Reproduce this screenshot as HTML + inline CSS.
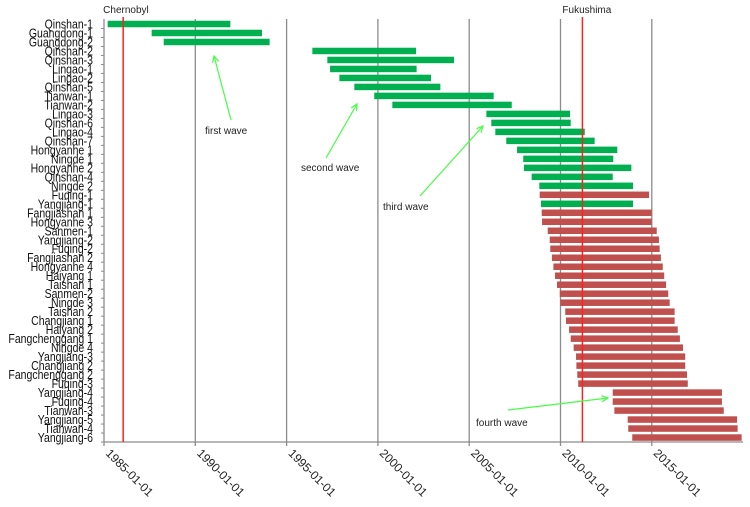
<!DOCTYPE html>
<html><head><meta charset="utf-8"><style>
html,body{margin:0;padding:0;background:#fff;}
svg{display:block;font-family:"Liberation Sans",sans-serif;}
</style></head><body>
<svg id="chart" width="750" height="507"></svg>
<script>
const units = ["Qinshan-1","Guangdong-1","Guangdong-2","Qinshan-2","Qinshan-3","Lingao-1","Lingao-2","Qinshan-5","Tianwan-1","Tianwan-2","Lingao-3","Qinshan-6","Lingao-4","Qinshan-7","Hongyanhe 1","Ningde 1","Hongyanhe 2","Qinshan-4","Ningde 2","Fuqing-1","Yangjiang-1","Fangjiashan 1","Hongyanhe 3","Sanmen-1","Yangjiang-2","Fuqing-2","Fangjiashan 2","Hongyanhe 4","Haiyang 1","Taishan 1","Sanmen-2","Ningde 3","Taishan 2","Changjiang 1","Haiyang 2","Fangchenggang 1","Ningde 4","Yangjiang-3","Changjiang 2","Fangchenggang 2","Fuqing-3","Yangjiang-4","Fuqing-4","Tianwan-3","Yangjiang-5","Tianwan-4","Yangjiang-6"];
const startYears = [1985.2,1987.61,1988.27,1996.41,1997.23,1997.38,1997.89,1998.71,1999.80,2000.79,2005.94,2006.21,2006.43,2007.03,2007.62,2007.96,2008.00,2008.42,2008.84,2008.86,2008.93,2008.97,2008.99,2009.30,2009.41,2009.44,2009.53,2009.61,2009.70,2009.81,2009.96,2009.99,2010.26,2010.30,2010.47,2010.56,2010.72,2010.85,2010.87,2010.92,2010.97,2012.86,2012.86,2012.95,2013.68,2013.71,2013.93];
const endYears = [1991.92,1993.65,1994.07,2002.09,2004.17,2002.12,2002.91,2003.42,2006.34,2007.33,2010.52,2010.56,2011.33,2011.87,2013.11,2012.89,2013.88,2012.86,2013.97,2014.85,2013.97,2014.99,2014.99,2015.27,2015.39,2015.43,2015.50,2015.60,2015.68,2015.78,2015.90,2015.98,2016.25,2016.25,2016.42,2016.54,2016.71,2016.83,2016.83,2016.93,2016.97,2018.84,2018.84,2018.94,2019.67,2019.70,2019.92];
const status = ["op","op","op","op","op","op","op","op","op","op","op","op","op","op","op","op","op","op","op","uc","op","uc","uc","uc","uc","uc","uc","uc","uc","uc","uc","uc","uc","uc","uc","uc","uc","uc","uc","uc","uc","uc","uc","uc","uc","uc","uc"];
const tickYears = [1985,1990,1995,2000,2005,2010,2015];
const tickLabels = ["1985-01-01","1990-01-01","1995-01-01","2000-01-01","2005-01-01","2010-01-01","2015-01-01"];
const events = ["Chernobyl","Fukushima"];
const eventYears = [1986.05,2011.2];

const NS="http://www.w3.org/2000/svg";
const svg=document.getElementById('chart');
const X0=104, K=18.26, Y0=24, RS=8.99, BH=6.5, AXY=442, TOP=19;
function x(y){return X0+(y-1985)*K;}
function yc(i){return Y0+i*RS;}
function mk(t,a,p){const e=document.createElementNS(NS,t);for(const k in a)e.setAttribute(k,a[k]);(p||svg).appendChild(e);return e;}

tickYears.forEach((t,i)=>{
  if(i===0)return;
  const g=mk('line',{x1:x(t),x2:x(t),y1:TOP,y2:AXY,stroke:'#8c8c8c','stroke-width':1.3});
  
  
});
const ya=mk('line',{x1:X0,x2:X0,y1:TOP,y2:AXY,stroke:'#8c8c8c','stroke-width':1.3});


const xa=mk('line',{x1:X0,x2:743,y1:AXY,y2:AXY,stroke:'#8c8c8c','stroke-width':1.3});



units.forEach((u,i)=>{
  const b=mk('rect',{x:x(startYears[i]),y:yc(i)-BH/2,width:x(endYears[i])-x(startYears[i]),height:BH,fill:status[i]==='op'?'#00b050':'#c0504d'});
  
  
  const tk=mk('line',{x1:X0-3,x2:X0,y1:yc(i)+RS/2,y2:yc(i)+RS/2,stroke:'#8c8c8c'});
  
  
  const t=mk('text',{x:93,y:yc(i)+4.5,'text-anchor':'end','font-size':'12.5',fill:'#111',transform:'translate(93 0) scale(0.84 1) translate(-93 0)'});
  t.textContent=u;
  
  
});

tickYears.forEach((t,i)=>{
  const tk=mk('line',{x1:x(t),x2:x(t),y1:AXY,y2:AXY+4,stroke:'#8c8c8c','stroke-width':1.3});
  
  
  const tx=x(t)+1, ty=AXY+12;
  const l=mk('text',{x:tx,y:ty,'font-size':'12',fill:'#222',transform:`rotate(45 ${tx} ${ty})`});
  l.textContent=tickLabels[i];
  
  
});

events.forEach((e,i)=>{
  const l=mk('line',{x1:x(eventYears[i]),x2:x(eventYears[i]),y1:17,y2:AXY,stroke:'#ff2020','stroke-width':1.5});
  
  
  const t=mk('text',{x:x(eventYears[i])-20,y:13,'font-size':'10',fill:'#222'});
  t.textContent=e;
  
  
});

const waves=[["first wave",205,134,231,120,214,56],["second wave",301,171,326,158,357,104],["third wave",383,210,420,196,483,126],["fourth wave",476,426,508,410,608,398]];
waves.forEach(w=>{
  const g=mk('g',{});
  
  
  mk('line',{x1:w[3],y1:w[4],x2:w[5],y2:w[6],stroke:'#44ff44','stroke-width':1.2},g);
  const a=Math.atan2(w[6]-w[4],w[5]-w[3]);
  const h=7,s=0.45;
  const p=`M${w[5]-h*Math.cos(a-s)},${w[6]-h*Math.sin(a-s)} L${w[5]},${w[6]} L${w[5]-h*Math.cos(a+s)},${w[6]-h*Math.sin(a+s)}`;
  mk('path',{d:p,fill:'none',stroke:'#44ff44','stroke-width':1.2},g);
  const t=mk('text',{x:w[1],y:w[2],'font-size':'10',fill:'#222'},g);
  t.textContent=w[0];
});
</script>
</body></html>
